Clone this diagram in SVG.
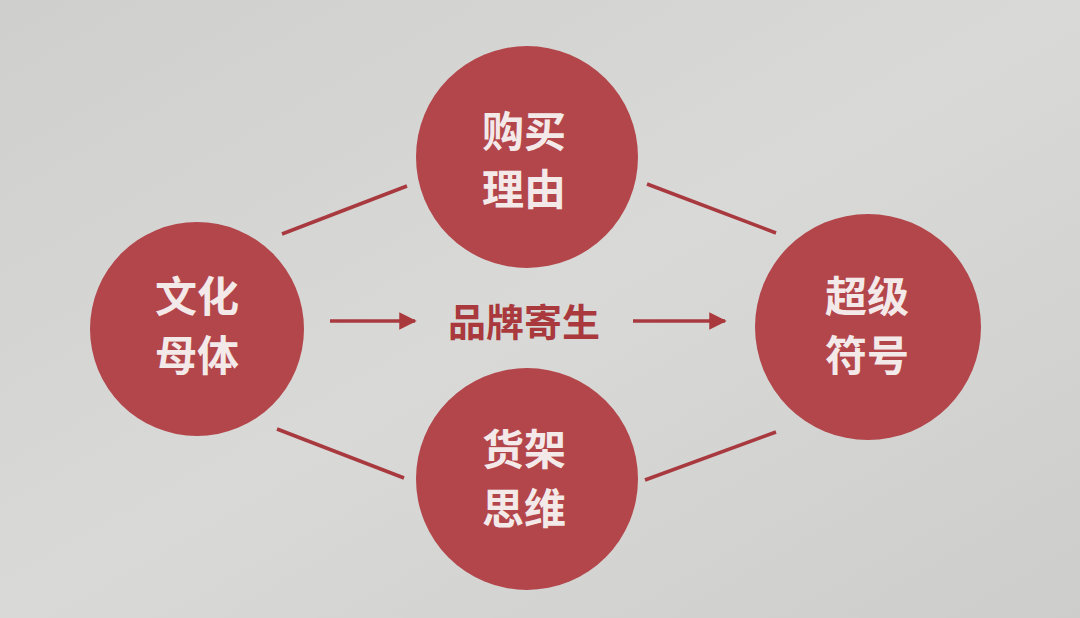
<svg xmlns="http://www.w3.org/2000/svg" width="1080" height="618" viewBox="0 0 1080 618">
<defs>
<linearGradient id="bg" x1="0" y1="0" x2="1" y2="1">
<stop offset="0" stop-color="#cfd0ce"/>
<stop offset="0.5" stop-color="#d9dad8"/>
<stop offset="1" stop-color="#cdcecc"/>
</linearGradient>
<marker id="ah" viewBox="0 0 10 10" refX="9" refY="5" markerWidth="5" markerHeight="5" orient="auto" markerUnits="strokeWidth">
<path d="M0,0 L10,5 L0,10 Z" fill="#a9393d"/>
</marker>
<style>
.node circle{fill:#b3464b;}
.node text{fill:#f3e9e9;font-family:"Noto Sans CJK SC","Noto Sans CJK TC",sans-serif;font-weight:bold;font-size:42px;text-anchor:middle;}
.conn line{stroke:#a83a3f;stroke-width:3.5;}
.arrow{stroke:#a9393d;stroke-width:5;fill:none;}
.mid{fill:#a9393d;font-family:"Noto Sans CJK SC","Noto Sans CJK TC",sans-serif;font-weight:bold;font-size:38px;text-anchor:middle;}
</style>
</defs>
<rect width="1080" height="618" fill="url(#bg)"/>
<g id="connectors" class="conn">
<line x1="282" y1="234" x2="407" y2="186"/>
<line x1="647" y1="184" x2="776" y2="233"/>
<line x1="277" y1="429" x2="404" y2="478"/>
<line x1="645" y1="480" x2="776" y2="432"/>
<line class="arrow" x1="330" y1="321" x2="415" y2="321" marker-end="url(#ah)"/>
<line class="arrow" x1="633" y1="321" x2="725" y2="321" marker-end="url(#ah)"/>
</g>
<g id="node-top" class="node">
<circle cx="527" cy="157" r="111"/>
<text x="524" y="147">购买</text>
<text x="524" y="205">理由</text>
</g>
<g id="node-left" class="node">
<circle cx="197" cy="329" r="107"/>
<text x="197" y="312">文化</text>
<text x="197" y="371">母体</text>
</g>
<g id="node-right" class="node">
<circle cx="868" cy="327" r="113"/>
<text x="867" y="312">超级</text>
<text x="867" y="371">符号</text>
</g>
<g id="node-bottom" class="node">
<circle cx="527" cy="479" r="111"/>
<text x="524" y="465">货架</text>
<text x="524" y="524">思维</text>
</g>
<g id="center-label">
<text class="mid" x="524" y="336">品牌寄生</text>
</g>
</svg>
